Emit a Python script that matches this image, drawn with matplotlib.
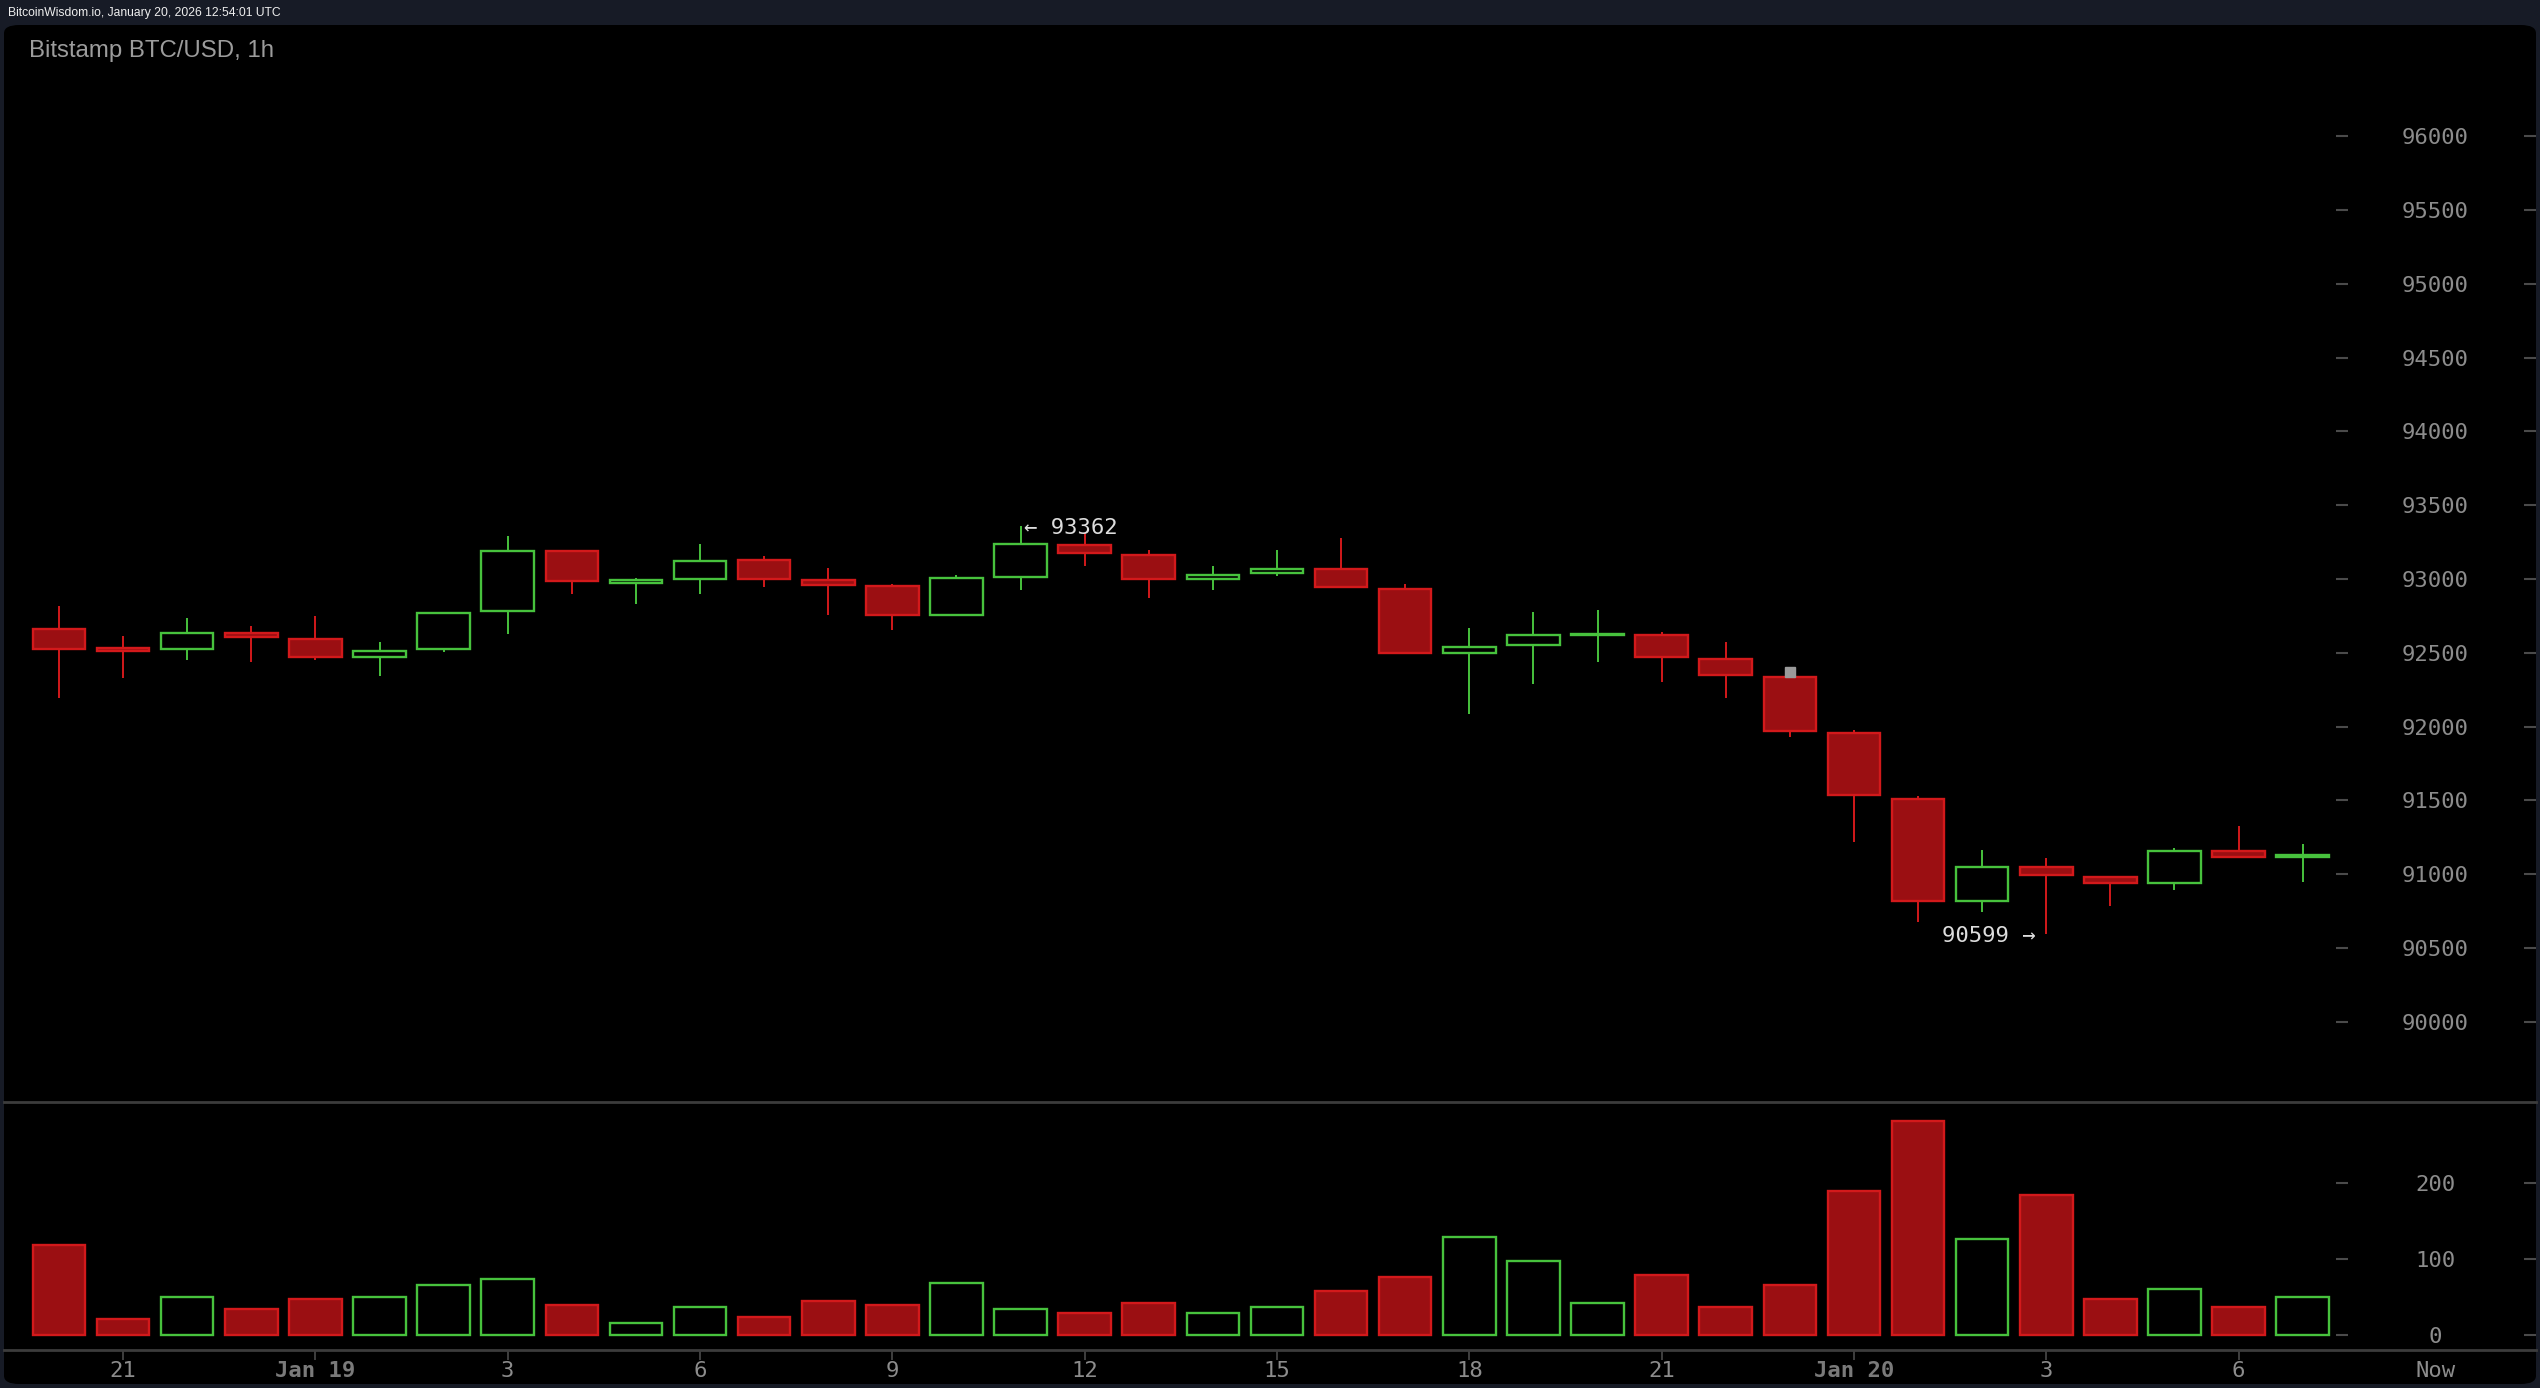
import matplotlib
matplotlib.use("Agg")
import matplotlib.pyplot as plt
from matplotlib.patches import FancyBboxPatch
import numpy as np

# hourly candles, Jan 18 20:00 -> Jan 20 07:00
hours = [20, 21, 22, 23, 0, 1, 2, 3, 4, 5, 6, 7, 8, 9, 10, 11, 12, 13,
         14, 15, 16, 17, 18, 19, 20, 21, 22, 23, 0, 1, 2, 3, 4, 5, 6, 7]
day_labels = {4: "Jan 19", 28: "Jan 20"}

opens = [92664, 92530, 92524, 92636, 92596, 92470, 92524, 92785, 93192, 92975,
         92998, 93129, 92993, 92953, 92754, 93011, 93232, 93165, 92998, 93039,
         93070, 92935, 92500, 92551, 92620, 92623, 92461, 92338, 91960, 91513,
         90817, 91052, 90985, 90940, 91161, 91120]
highs = [92817, 92614, 92736, 92682, 92750, 92573, 92775, 93291, 93195, 93007,
         93237, 93156, 93074, 92966, 93025, 93362, 93310, 93196, 93088, 93196,
         93278, 92966, 92668, 92777, 92790, 92641, 92573, 92370, 91977, 91531,
         91165, 91111, 90990, 91178, 91327, 91205]
lows = [92194, 92330, 92452, 92438, 92452, 92343, 92506, 92628, 92898, 92831,
        92898, 92944, 92754, 92655, 92754, 92926, 93088, 92871, 92926, 93020,
        92940, 92490, 92086, 92289, 92438, 92303, 92194, 91928, 91219, 90677,
        90748, 90599, 90786, 90894, 91110, 90951]
closes = [92526, 92515, 92636, 92605, 92470, 92515, 92772, 93192, 92985, 92990,
          93124, 92998, 92960, 92754, 93007, 93237, 93174, 92998, 93029, 93070,
          92944, 92496, 92542, 92623, 92626, 92470, 92348, 91969, 91535, 90817,
          91052, 90993, 90940, 91161, 91116, 91128]
volumes = [118.6, 21.4, 50.3, 34.5, 47.7, 50.3, 66, 74, 39.8, 16.2,
           37.2, 24, 45, 39.8, 68.7, 34.5, 29.3, 42.4, 29.3, 37.2,
           58.2, 76.6, 129, 97.6, 42.4, 79.2, 37.2, 66, 189.5, 281.4,
           126.5, 184.2, 47.7, 60.8, 37.2, 50.3]

price_ticks = [90000, 90500, 91000, 91500, 92000, 92500, 93000, 93500,
               94000, 94500, 95000, 95500, 96000]
vol_ticks = [0, 100, 200]
high_mark = 93362
low_mark = 90599
cursor_candle = 27

RED_EDGE = "#d3191b"
RED_FILL = "#9b0f12"
GREEN = "#47c23d"
TXT = "#8c8c8c"
MONO = ["DejaVu Sans Mono"]

W, H = 2540, 1388
fig = plt.figure(figsize=(W / 100, H / 100), dpi=100, facecolor="#171b26")

# black rounded panel behind both axes
panel = FancyBboxPatch((4 / W, 4 / H), 2532 / W, 1359 / H,
                       boxstyle="round,pad=0,rounding_size=0.006",
                       transform=fig.transFigure, facecolor="black",
                       edgecolor="none", zorder=-10)
fig.patches.append(panel)

ax_p = fig.add_axes([4 / W, 1 - 1102 / H, 2532 / W, 1077 / H], facecolor="none")
ax_v = fig.add_axes([4 / W, 1 - 1350 / H, 2532 / W, 248 / H], facecolor="none")
ax_p.set_zorder(2)
ax_v.set_zorder(2)

x = np.arange(len(opens))
o = np.array(opens); c = np.array(closes)
up = c >= o
body_low = np.minimum(o, c)
body_h = np.abs(c - o)
fills = [("black" if u else RED_FILL) for u in up]
edges = [(GREEN if u else RED_EDGE) for u in up]

ax_p.vlines(x, lows, highs, colors=edges, linewidth=1.4, zorder=2)
ax_p.bar(x, body_h, bottom=body_low, width=0.82, color=fills,
         edgecolor=edges, linewidth=1.7, zorder=3)
ax_p.plot(cursor_candle, highs[cursor_candle], marker="s", markersize=7,
          color="#9a9a9a", zorder=4)

ax_p.text(15.05, high_mark, "\u2190 " + str(high_mark), ha="left",
          va="center_baseline", color="#dddddd", fontsize=16, family=MONO)
ax_p.text(30.83, low_mark, str(low_mark) + " \u2192", ha="right",
          va="center_baseline", color="#dddddd", fontsize=16, family=MONO)

ax_v.bar(x, volumes, width=0.82, color=fills, edgecolor=edges, linewidth=1.7)

xlim = (-0.858, 38.64)
label_x = 37.07
for ax, ticks, ylim in ((ax_p, price_ticks, (89458, 96752)),
                        (ax_v, vol_ticks, (-19.7, 306))):
    ax.set_xlim(xlim)
    ax.set_ylim(ylim)
    ax.set_yticks([])
    for s in ax.spines.values():
        s.set_visible(False)
    ax.hlines(ticks, 35.52, 35.71, colors="#4a4a4a", linewidth=1.5)
    ax.hlines(ticks, 38.46, 38.66, colors="#4a4a4a", linewidth=1.5)
    for t in ticks:
        ax.text(label_x, t, str(t), ha="center", va="center_baseline",
                color=TXT, fontsize=16, family=MONO)

ax_p.set_xticks([])
ax_v.spines["top"].set_visible(True)
ax_v.spines["bottom"].set_visible(True)
for s in ("top", "bottom"):
    ax_v.spines[s].set_color("#3c3c3c")
    ax_v.spines[s].set_linewidth(2)

tick_pos, tick_lab = [], []
for i, h in enumerate(hours):
    if i in day_labels:
        tick_pos.append(i); tick_lab.append(day_labels[i])
    elif h % 3 == 0:
        tick_pos.append(i); tick_lab.append(str(h))
tick_pos.append(label_x); tick_lab.append("Now")
ax_v.set_xticks(tick_pos)
ax_v.set_xticklabels(tick_lab, family=MONO, fontsize=16, color=TXT)
ax_v.tick_params(axis="x", direction="out", length=7, width=1.2,
                 color="#4a4a4a", pad=1)
for lab in ax_v.get_xticklabels():
    if lab.get_text().startswith("Jan"):
        lab.set_fontweight("bold")
        lab.set_color("#7a7a7a")
ax_v.xaxis.get_major_ticks()[-1].tick1line.set_visible(False)

fig.text(8 / W, 1 - 13 / H, "BitcoinWisdom.io, January 20, 2026 12:54:01 UTC",
         color="#eeeeee", fontsize=8.7, family=["Liberation Sans"], va="center")
fig.text(29 / W, 1 - 51 / H, "Bitstamp BTC/USD, 1h", color="#9c9c9c",
         fontsize=17.3, family=["Liberation Sans"], va="center")

fig.savefig("out.png", dpi=100, facecolor=fig.get_facecolor())
